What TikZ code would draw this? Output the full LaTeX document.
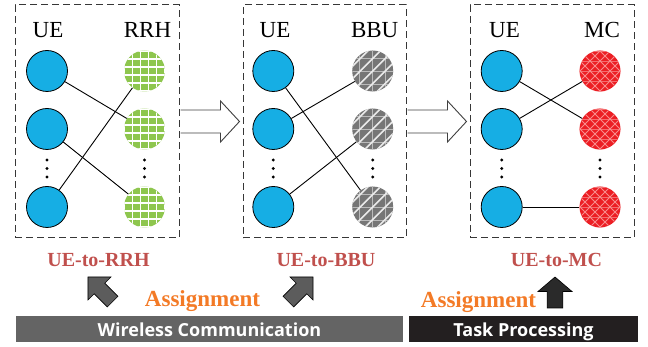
\documentclass[tikz,border=0pt]{standalone}
\usepackage{fontspec}
\setmainfont{Liberation Serif}
\newfontfamily\barfont{Open Sans}
\usetikzlibrary{calc}

\definecolor{uefill}{RGB}{22,174,228}
\definecolor{rrhgreen}{RGB}{142,198,78}
\definecolor{bbugrey}{RGB}{118,118,118}
\definecolor{mcred}{RGB}{236,30,36}
\definecolor{mcline}{RGB}{248,140,140}
\definecolor{labelred}{RGB}{192,80,77}
\definecolor{assignorange}{RGB}{243,122,38}
\definecolor{wirelessbar}{RGB}{100,100,100}
\definecolor{taskbar}{RGB}{35,31,32}
\definecolor{boxline}{RGB}{55,55,55}
\definecolor{arrowgrey}{RGB}{92,92,92}
\definecolor{arrowdark}{RGB}{42,42,42}

\begin{document}
\begin{tikzpicture}[x=1pt,y=1pt,
  groupbox/.style={draw=boxline, dash pattern=on 7pt off 4pt, line width=1pt,
    minimum width=#1, minimum height=233, inner sep=0},
  ue/.style={circle, draw=black, line width=0.8pt, fill=uefill, minimum size=41, inner sep=0},
  rrh/.style={circle, fill=rrhgreen, minimum size=41, inner sep=0, path picture={
    \begin{scope}[shift={(path picture bounding box.center)}]
      \foreach \k in {-3,...,3}{
        \draw[white, line width=1.2pt] (\k*8+4,-22) -- ++(0,44);
        \draw[white, line width=1.2pt] (-22,\k*8+4) -- ++(44,0);}
    \end{scope}}},
  bbu/.style={circle, fill=bbugrey, minimum size=41, inner sep=0, path picture={
    \begin{scope}[shift={(path picture bounding box.center)}]
      \foreach \k in {-2,...,2}{
        \draw[white!50!bbugrey, line width=0.5pt] (\k*13,-22) -- ++(0,44);
        \draw[white!50!bbugrey, line width=0.5pt] (-22,\k*13) -- ++(44,0);}
      \foreach \k in {-4,...,4}{
        \draw[white!85!bbugrey, line width=1.5pt] (\k*12.5-25,-25) -- ++(50,50);}
    \end{scope}}},
  mc/.style={circle, fill=mcred, minimum size=41, inner sep=0, path picture={
    \begin{scope}[shift={(path picture bounding box.center)}]
      \foreach \k in {-2,...,2}{
        \draw[mcline!70!mcred, line width=0.5pt] (-22,\k*10) -- ++(44,0);}
      \foreach \k in {-5,...,5}{
        \draw[mcline, line width=0.9pt] (\k*10-25,-25) -- ++(50,50);
        \draw[mcline, line width=0.9pt] (\k*10+25,-25) -- ++(-50,50);}
    \end{scope}}},
  link/.style={draw=black, line width=0.9pt},
  hollowarrow/.style={draw=black!75, line width=0.9pt, fill=white},
  head/.style={font=\fontsize{23}{23}\selectfont, anchor=base, inner sep=0},
  assoc/.style={font=\fontsize{20}{20}\selectfont\bfseries, text=labelred, anchor=base, inner sep=0},
  assign/.style={font=\fontsize{23}{23}\selectfont\bfseries, text=assignorange, anchor=base, inner sep=0},
  bar/.style={font=\barfont\bfseries\fontsize{18}{18}\selectfont, text=white,
    minimum height=26, inner sep=0, text height=15.4, text depth=0},
  upblock/.pic={\path[pic actions] (0,30) -- (14,16) -- (6.5,16) -- (6.5,0)
    -- (-6.5,0) -- (-6.5,16) -- (-14,16) -- cycle;}
]
\useasboundingbox (0,0) rectangle (648,347);

% the three dashed groups
\node[groupbox=164] (box1) at (97,225.5) {};
\node[groupbox=163] (box2) at (324.5,225.5) {};
\node[groupbox=164] (box3) at (552,225.5) {};

% column headings
\node[head] (h11) at (48,309.7) {UE};
\node[head] (h12) at (147.5,309.7) {RRH};
\node[head] (h21) at (275,309.7) {UE};
\node[head] (h22) at (374.7,309.7) {BBU};
\node[head] (h31) at (504.5,309.7) {UE};
\node[head] (h32) at (602,309.7) {MC};

% UE-to-RRH
\node[ue]  (u11) at (47,276) {};
\node[ue]  (u12) at (47,218) {};
\node[ue]  (u13) at (47,140) {};
\node[rrh] (r11) at (144.5,276) {};
\node[rrh] (r12) at (144.5,218) {};
\node[rrh] (r13) at (144.5,140) {};
\draw[link] (u11) -- (r12);
\draw[link] (u12) -- (r13);
\draw[link] (u13) -- (r11);

% UE-to-BBU
\node[ue]  (u21) at (273.3,276) {};
\node[ue]  (u22) at (273.3,218) {};
\node[ue]  (u23) at (273.3,140) {};
\node[bbu] (b21) at (372.7,276) {};
\node[bbu] (b22) at (372.7,218) {};
\node[bbu] (b23) at (372.7,140) {};
\draw[link] (u21) -- (b23);
\draw[link] (u22) -- (b21);
\draw[link] (u23) -- (b22);

% UE-to-MC
\node[ue] (u31) at (501.7,276) {};
\node[ue] (u32) at (501.7,218) {};
\node[ue] (u33) at (501.7,140) {};
\node[mc] (m31) at (600,276) {};
\node[mc] (m32) at (600,218) {};
\node[mc] (m33) at (600,140) {};
\draw[link] (u31) -- (m32);
\draw[link] (u32) -- (m31);
\draw[link] (u33) -- (m33);

% vertical ellipses
\foreach \x in {47,144.5,273.3,372.7,501.7,600}
  \foreach \y in {187,178.5,170}
    \fill[black] (\x,\y) circle (1.6);

% hollow arrows between the groups
\draw[hollowarrow] ($(box1.east)+(1,11.5)$) -- ($(box2.west)+(-22,11.5)$)
  -- ($(box2.west)+(-22,20.5)$) -- ($(box2.west)+(-3,0)$)
  -- ($(box2.west)+(-22,-20.5)$) -- ($(box2.west)+(-22,-11.5)$)
  -- ($(box1.east)+(1,-11.5)$);
\draw[hollowarrow] ($(box2.east)+(1,11.5)$) -- ($(box3.west)+(-22,11.5)$)
  -- ($(box3.west)+(-22,20.5)$) -- ($(box3.west)+(-3,0)$)
  -- ($(box3.west)+(-22,-20.5)$) -- ($(box3.west)+(-22,-11.5)$)
  -- ($(box2.east)+(1,-11.5)$);

% assignment labels
\node[assoc] (l1) at (98.5,80.3) {UE-to-RRH};
\node[assoc] (l2) at (326,80.3) {UE-to-BBU};
\node[assoc] (l3) at (556.5,80.3) {UE-to-MC};
\node[assign] (a1) at (202.5,40.3) {Assignment};
\node[assign] (a2) at (478.5,39.5) {Assignment};

% block arrows
\pic[rotate=45, scale=1.16, fill=arrowgrey, draw=black, line width=0.6pt] at (112.6,45.4) {upblock};
\pic[rotate=-45, scale=1.16, fill=arrowgrey, draw=black, line width=0.6pt] at (288.4,45.4) {upblock};
\pic[xscale=1.214, yscale=1.033, fill=arrowdark, draw=black, line width=0.6pt] at (555,39) {upblock};

% bottom bars
\node[bar, fill=wirelessbar, minimum width=387] (wbar) at (209.5,18) {Wireless Communication};
\node[bar, fill=taskbar, minimum width=229] (tbar) at (523.5,18) {Task Processing};
\end{tikzpicture}
\end{document}
